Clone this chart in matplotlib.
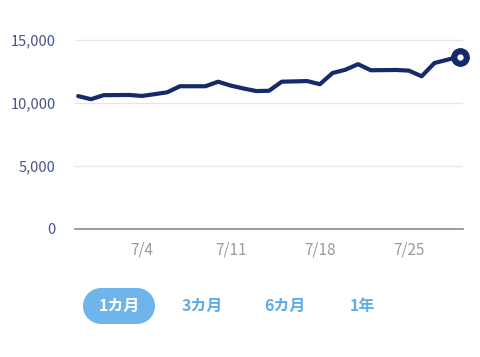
import matplotlib
matplotlib.use('Agg')
import matplotlib.pyplot as plt
import matplotlib.dates as mdates
from matplotlib.patches import Rectangle, Ellipse
from datetime import date

plt.rcParams['font.family'] = ['Noto Sans CJK JP', 'DejaVu Sans']

# データ
dates = [
    (6, 29), (6, 30), (7, 1), (7, 3), (7, 4), (7, 5), (7, 6), (7, 7),
    (7, 9), (7, 10), (7, 11), (7, 12), (7, 13), (7, 14), (7, 15), (7, 17),
    (7, 18), (7, 19), (7, 20), (7, 21), (7, 22), (7, 24), (7, 25), (7, 26),
    (7, 27), (7, 28), (7, 29),
]
values = [
    10550, 10300, 10620, 10640, 10560, 10700, 10850, 11330,
    11330, 11690, 11380, 11150, 10950, 10970, 11690, 11740,
    11490, 12380, 12640, 13080, 12600, 12620, 12570, 12120,
    13170, 13430, 13680,
]
y_ticks = [0, 5000, 10000, 15000]
y_tick_labels = ['0', '5,000', '10,000', '15,000']
x_ticks = [(7, 4), (7, 11), (7, 18), (7, 25)]
x_tick_labels = ['7/4', '7/11', '7/18', '7/25']
buttons = ['1カ月', '3カ月', '6カ月', '1年']
active_button = 0

x = [mdates.date2num(date(2021, m, d)) for m, d in dates]
xt = [mdates.date2num(date(2021, m, d)) for m, d in x_ticks]

W, H = 480, 357
fig = plt.figure(figsize=(W / 100, H / 100), dpi=100)
# 軸の位置（ピクセル基準）
ax = fig.add_axes([75 / W, 1 - 229 / H, (463 - 75) / W, (229 - 30) / H])

navy = '#15296b'
ax.plot(x, values, color=navy, lw=3, solid_joinstyle='round', solid_capstyle='round', zorder=3)
# 最新値のマーカー
ax.plot(x[-1], values[-1], 'o', ms=12.5, color=navy, zorder=4, clip_on=False)
ax.plot(x[-1], values[-1], 'o', ms=3.5, color='white', zorder=5, clip_on=False)

ax.set_ylim(0, 15000 * (229 - 30) / (229 - 40))
ax.set_xlim(x[0] - 0.25, x[-1] + 0.25)
ax.set_yticks(y_ticks)
ax.set_yticklabels(y_tick_labels)
ax.set_xticks(xt)
ax.set_xticklabels(x_tick_labels)

for s in ['top', 'right', 'left']:
    ax.spines[s].set_visible(False)
ax.spines['bottom'].set_color('#8c8c8c')
ax.spines['bottom'].set_linewidth(1.2)
ax.grid(axis='y', color='#e6e6e6', lw=1)
ax.set_axisbelow(True)
ax.tick_params(axis='y', length=0, pad=14, labelsize=10.5, labelcolor='#45558a')
ax.tick_params(axis='x', length=0, pad=9, labelsize=11, labelcolor='#9a9a9a')

# 期間ボタン
btn_x = [119, 202, 285, 362]
btn_y = 306
pill_color = '#6db5ea'
for i, (label, bx) in enumerate(zip(buttons, btn_x)):
    if i == active_button:
        fig.patches.append(Rectangle(((bx - 18) / W, (H - btn_y - 18) / H), 36 / W, 36 / H,
                                     transform=fig.transFigure, color=pill_color, lw=0))
        for cx in (bx - 18, bx + 18):
            fig.patches.append(Ellipse((cx / W, (H - btn_y) / H), 36 / W, 36 / H,
                                       transform=fig.transFigure, color=pill_color, lw=0))
        color = 'white'
    else:
        color = '#5eabe6'
    fig.text(bx / W, (H - btn_y) / H, label, ha='center', va='center',
             fontsize=11.5, fontweight='bold', color=color)

fig.savefig('out.png', dpi=100)
